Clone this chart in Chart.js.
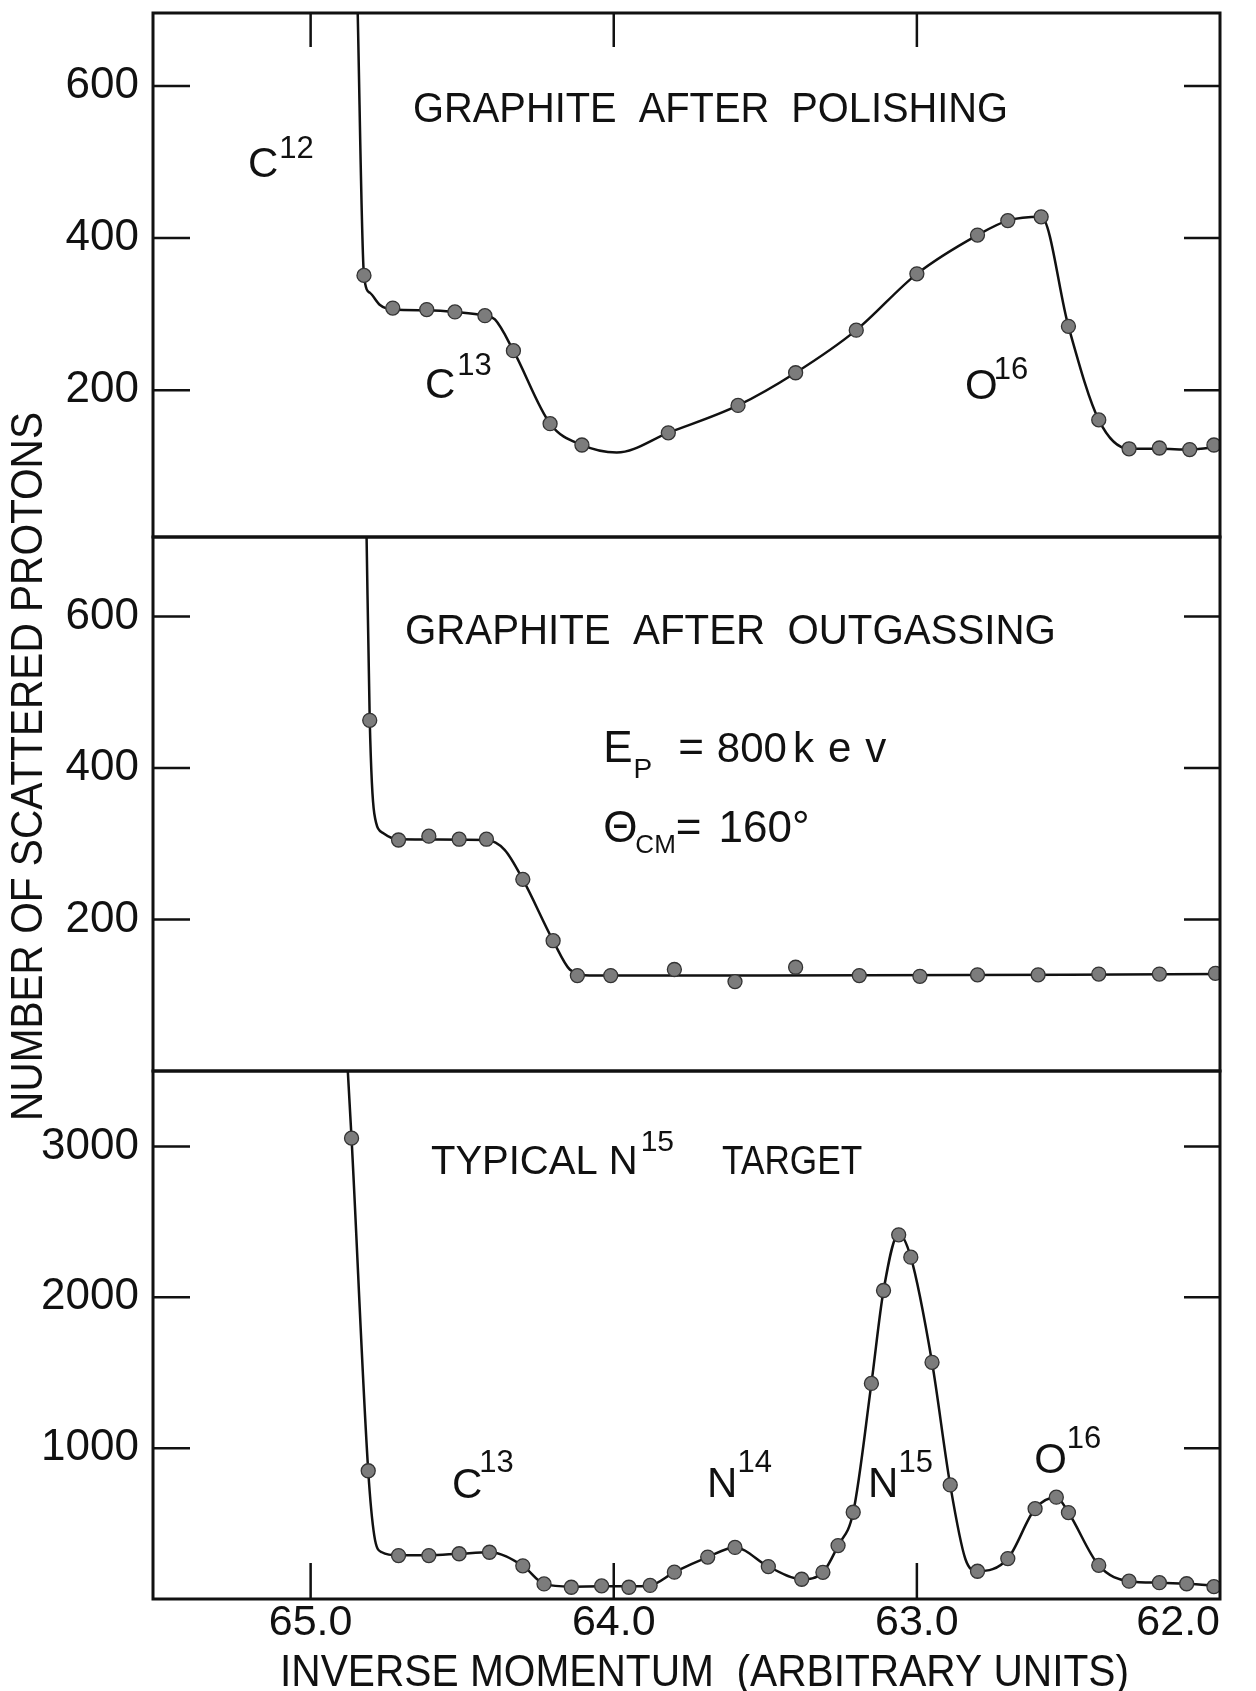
<!DOCTYPE html>
<html>
<head>
<meta charset="utf-8">
<title>Number of scattered protons vs inverse momentum</title>
<script src="https://cdn.jsdelivr.net/npm/chart.js@4.4.1/dist/chart.umd.min.js"></script>
<style>
  html, body { margin: 0; padding: 0; background: #ffffff; }
  #wrap { position: relative; width: 1256px; height: 1691px; }
  canvas { display: block; }
</style>
</head>
<body>
<div id="wrap"><canvas id="spectra" width="1256" height="1691"></canvas></div>
<script>
const FONT = '"Liberation Sans", "DejaVu Sans", Arial, sans-serif';
const INK = '#111111';

// Axis tick values
const xTickValues = [65.0, 64.0, 63.0, 62.0];
const graphiteTickValues = [200, 400, 600];
const nitrogenTickValues = [1000, 2000, 3000];

// Graphite after polishing: measured points
const polishedMomentum = [64.824, 64.729, 64.617, 64.524, 64.425, 64.331, 64.21, 64.105, 63.82, 63.59, 63.40, 63.20,
  63.00, 62.80, 62.70, 62.59, 62.50, 62.40, 62.30, 62.20, 62.10, 62.02];
const polishedCounts = [351, 308, 306, 303, 298, 252, 156, 128, 144, 180, 223, 279,
  353, 404, 423, 428, 284, 161, 123, 124, 122, 128];
// Graphite after polishing: drawn curve
const polishedCurveMomentum = [64.846, 64.824, 64.804, 64.771, 64.729, 64.617, 64.524, 64.425, 64.392, 64.331, 64.21,
  64.105, 63.99, 63.82, 63.59, 63.40, 63.20, 63.00, 62.80, 62.70, 62.59, 62.50, 62.40, 62.30, 62.20, 62.10, 62.0];
const polishedCurveCounts = [720, 351, 328, 312, 306, 305, 303, 298, 293, 252, 156,
  128, 118, 144, 180, 223, 279, 353, 404, 423, 428, 284, 161, 123, 123, 122, 126];

// Graphite after outgassing: measured points
const outgassedMomentum = [64.805, 64.71, 64.61, 64.51, 64.42, 64.30, 64.20, 64.12, 64.01, 63.80, 63.60, 63.40,
  63.19, 62.99, 62.80, 62.60, 62.40, 62.20, 62.015];
const outgassedCounts = [463, 305, 310, 306, 306, 253, 172, 126, 126, 134, 118, 137,
  126, 125, 127, 127, 128, 128, 129];
// Graphite after outgassing: drawn curve
const outgassedCurveMomentum = [64.816, 64.805, 64.79, 64.76, 64.71, 64.42, 64.36, 64.30, 64.20, 64.145, 64.08, 63.50, 62.0];
const outgassedCurveCounts = [720, 463, 340, 314, 306, 305, 292, 253, 172, 134, 126, 126, 128];

// Typical N15 target: measured points
const n15Momentum = [64.865, 64.81, 64.71, 64.61, 64.51, 64.41, 64.30, 64.23, 64.14, 64.04, 63.95, 63.88,
  63.80, 63.69, 63.60, 63.49, 63.38, 63.31, 63.26, 63.21, 63.15, 63.11, 63.06, 63.02,
  62.95, 62.89, 62.80, 62.70, 62.61, 62.54, 62.50, 62.40, 62.30, 62.20, 62.11, 62.02];
const n15Counts = [3055, 850, 288, 288, 300, 310, 220, 100, 78, 87, 78, 90,
  178, 278, 342, 215, 131, 177, 354, 575, 1429, 2045, 2414, 2266,
  1569, 756, 184, 268, 599, 675, 573, 223, 118, 108, 101, 82];
// Typical N15 target: drawn curve
const n15CurveMomentum = [64.883, 64.865, 64.81, 64.79, 64.765, 64.71, 64.61, 64.51, 64.41, 64.30, 64.23, 64.14,
  64.04, 63.95, 63.88, 63.80, 63.69, 63.60, 63.49, 63.38, 63.31, 63.26, 63.21, 63.15, 63.11, 63.06,
  63.02, 62.95, 62.89, 62.84, 62.80, 62.70, 62.61, 62.54, 62.50, 62.40, 62.30, 62.20, 62.11, 62.0];
const n15CurveCounts = [3700, 3055, 850, 420, 310, 290, 290, 300, 310, 220, 100, 82,
  84, 84, 90, 178, 278, 342, 215, 131, 177, 354, 575, 1429, 2045, 2420,
  2266, 1569, 756, 265, 184, 268, 599, 675, 573, 223, 118, 108, 101, 86];

const toXY = (xs, ys) => xs.map((x, i) => ({ x, y: ys[i] }));

function pointSet(label, xs, ys, axis) {
  return {
    label, data: toXY(xs, ys), yAxisID: axis, showLine: false,
    pointRadius: 7, pointHoverRadius: 7,
    pointBackgroundColor: '#7c7c7c', pointBorderColor: '#333333', pointBorderWidth: 1.3
  };
}
function curveSet(label, xs, ys, axis) {
  return {
    label, data: toXY(xs, ys), yAxisID: axis, showLine: true,
    pointRadius: 0, pointHoverRadius: 0, borderColor: INK, borderWidth: 2.5,
    cubicInterpolationMode: 'monotone', fill: false
  };
}

function panelAxis(min, max, tickValues, weight, stackWeight) {
  return {
    type: 'linear', position: 'left', stack: 'panels', stackWeight, weight,
    min, max,
    afterBuildTicks: s => { s.ticks = tickValues.map(v => ({ value: v })); },
    grid: { display: false, drawTicks: false },
    border: { display: false },
    ticks: {
      color: INK, padding: 14, autoSkip: false,
      font: { family: FONT, size: 44, lineHeight: 1 },
      callback: v => String(v)
    },
    afterFit: s => { s.width = 153; s.paddingTop = 0; s.paddingBottom = 0; }
  };
}

// Frames, inward tick marks, per-panel clipping and lettering
const panelDecor = {
  id: 'panelDecor',
  beforeDatasetDraw(chart, args) {
    const ys = args.meta.yScale;
    const { left, right } = chart.chartArea;
    const ctx = chart.ctx;
    ctx.save();
    ctx.beginPath();
    ctx.rect(left, ys.top, right - left, ys.bottom - ys.top);
    ctx.clip();
  },
  afterDatasetDraw(chart) {
    chart.ctx.restore();
  },
  afterDraw(chart, args, opts) {
    const ctx = chart.ctx;
    const { left, right, top, bottom } = chart.chartArea;
    const xs = chart.scales.x;
    ctx.save();
    ctx.strokeStyle = INK;
    ctx.lineCap = 'butt';

    // y tick marks on both sides of every panel
    ctx.lineWidth = 2.5;
    for (const id of opts.panels) {
      const s = chart.scales[id];
      for (const t of s.ticks) {
        const py = s.getPixelForValue(t.value);
        ctx.beginPath();
        ctx.moveTo(left, py); ctx.lineTo(left + opts.yTickLeft, py);
        ctx.moveTo(right - opts.yTickRight, py); ctx.lineTo(right, py);
        ctx.stroke();
      }
    }
    // x tick marks: bottom of lowest panel, top of upper panel
    for (const v of xTickValues) {
      if (v <= xs.min || v >= xs.max) continue;
      const px = xs.getPixelForValue(v);
      ctx.beginPath();
      ctx.moveTo(px, bottom); ctx.lineTo(px, bottom - opts.xTickBottom);
      ctx.moveTo(px, top); ctx.lineTo(px, top + opts.xTickTop);
      ctx.stroke();
    }
    // panel frames
    ctx.lineWidth = 3;
    for (const id of opts.panels) {
      const s = chart.scales[id];
      ctx.strokeRect(left, s.top, right - left, s.bottom - s.top);
    }

    // lettering inside the panels
    ctx.fillStyle = INK;
    ctx.textBaseline = 'alphabetic';
    ctx.textAlign = 'left';
    for (const lab of opts.labels) {
      const px = xs.getPixelForValue(lab.x);
      const py = chart.scales[lab.axis].getPixelForValue(lab.y);
      if (lab.fit) {
        ctx.font = `${lab.runs[0].size}px ${FONT}`;
        const w = ctx.measureText(lab.runs[0].text).width;
        ctx.save();
        ctx.translate(px, py);
        ctx.scale(lab.fit / w, 1);
        ctx.fillText(lab.runs[0].text, 0, 0);
        ctx.restore();
        continue;
      }
      let cx = px;
      for (const r of lab.runs) {
        const sx = r.sx || 1;
        cx += r.gap || 0;
        ctx.font = `${r.size}px ${FONT}`;
        ctx.letterSpacing = (r.spacing || 0) + 'px';
        ctx.save();
        ctx.translate(cx, py - (r.rise || 0));
        ctx.scale(sx, 1);
        ctx.fillText(r.text, 0, 0);
        ctx.restore();
        cx += ctx.measureText(r.text).width * sx;
        ctx.letterSpacing = '0px';
      }
    }

    // axis titles
    const yt = opts.yTitle;
    ctx.font = `${yt.size}px ${FONT}`;
    let w = ctx.measureText(yt.text).width;
    ctx.save();
    ctx.translate(yt.baseline, yt.start);
    ctx.rotate(-Math.PI / 2);
    ctx.scale((yt.start - yt.end) / w, 1);
    ctx.fillText(yt.text, 0, 0);
    ctx.restore();

    const xt = opts.xTitle;
    ctx.font = `${xt.size}px ${FONT}`;
    w = ctx.measureText(xt.text).width;
    ctx.save();
    ctx.translate(xt.start, xt.baseline);
    ctx.scale((xt.end - xt.start) / w, 1);
    ctx.fillText(xt.text, 0, 0);
    ctx.restore();

    ctx.restore();
  }
};

Chart.defaults.font.family = FONT;
Chart.defaults.color = INK;

new Chart(document.getElementById('spectra'), {
  type: 'scatter',
  data: {
    datasets: [
      pointSet('Graphite after polishing', polishedMomentum, polishedCounts, 'y1'),
      pointSet('Graphite after outgassing', outgassedMomentum, outgassedCounts, 'y2'),
      pointSet('Typical N15 target', n15Momentum, n15Counts, 'y3'),
      curveSet('Graphite after polishing (curve)', polishedCurveMomentum, polishedCurveCounts, 'y1'),
      curveSet('Graphite after outgassing (curve)', outgassedCurveMomentum, outgassedCurveCounts, 'y2'),
      curveSet('Typical N15 target (curve)', n15CurveMomentum, n15CurveCounts, 'y3')
    ]
  },
  options: {
    responsive: false,
    animation: false,
    devicePixelRatio: 1,
    layout: { padding: { top: 13, right: 36, bottom: 0, left: 0 } },
    scales: {
      x: {
        type: 'linear', position: 'bottom', reverse: true,
        min: 62.0, max: 65.52,
        afterBuildTicks: s => {
          s.ticks = [...xTickValues, s.max].sort((a, b) => a - b).map(v => ({ value: v }));
        },
        grid: { display: false, drawTicks: false },
        border: { display: false },
        ticks: {
          color: INK, padding: 3, autoSkip: false, maxRotation: 0, minRotation: 0, align: 'inner',
          font: { family: FONT, size: 43, lineHeight: 1 },
          callback: v => (xTickValues.includes(v) ? v.toFixed(1) : '')
        },
        afterFit: s => { s.height = 92; s.paddingLeft = 0; s.paddingRight = 0; }
      },
      y1: panelAxis(7, 696, graphiteTickValues, 3, 524),
      y2: panelAxis(0, 705, graphiteTickValues, 2, 534),
      y3: panelAxis(0, 3500, nitrogenTickValues, 1, 528)
    },
    plugins: {
      legend: { display: false },
      tooltip: { enabled: false },
      panelDecor: {
        panels: ['y1', 'y2', 'y3'],
        yTickLeft: 37, yTickRight: 36, xTickBottom: 36, xTickTop: 34,
        labels: [
          { axis: 'y1', x: 64.662, y: 553, fit: 595, runs: [{ text: 'GRAPHITE  AFTER  POLISHING', size: 42 }] },
          { axis: 'y1', x: 65.207, y: 480, runs: [{ text: 'C', size: 42 }, { text: '12', size: 31, rise: 19, gap: 1 }] },
          { axis: 'y1', x: 64.623, y: 190, runs: [{ text: 'C', size: 42 }, { text: '13', size: 31, rise: 23, gap: 2 }] },
          { axis: 'y1', x: 62.841, y: 188, runs: [{ text: 'O', size: 42 }, { text: '16', size: 31, rise: 20, gap: -4 }] },
          { axis: 'y2', x: 64.689, y: 564, fit: 651, runs: [{ text: 'GRAPHITE  AFTER  OUTGASSING', size: 42 }] },
          { axis: 'y2', x: 64.035, y: 408, runs: [
            { text: 'E', size: 44 }, { text: 'P', size: 28, rise: -16, gap: 1 },
            { text: '=', size: 44, gap: 26 }, { text: '800', size: 42, gap: 13 },
            { text: 'kev', size: 42, gap: 6, spacing: 14 }] },
          { axis: 'y2', x: 64.035, y: 302, runs: [
            { text: 'Θ', size: 44 }, { text: 'CM', size: 26, rise: -11, gap: -2 },
            { text: '=', size: 44 }, { text: '160°', size: 44, gap: 17 }] },
          { axis: 'y3', x: 64.603, y: 2817, runs: [
            { text: 'TYPICAL N', size: 40 }, { text: '15', size: 30, rise: 23, gap: 3 },
            { text: 'TARGET', size: 40, gap: 48, sx: 0.88 }] },
          { axis: 'y3', x: 64.534, y: 669, runs: [{ text: 'C', size: 42 }, { text: '13', size: 31, rise: 26, gap: -3 }] },
          { axis: 'y3', x: 63.692, y: 676, runs: [{ text: 'N', size: 42 }, { text: '14', size: 31, rise: 25 }] },
          { axis: 'y3', x: 63.161, y: 676, runs: [{ text: 'N', size: 42 }, { text: '15', size: 31, rise: 25 }] },
          { axis: 'y3', x: 62.613, y: 835, runs: [{ text: 'O', size: 42 }, { text: '16', size: 31, rise: 25 }] }
        ],
        yTitle: { text: 'NUMBER OF SCATTERED PROTONS', size: 44, baseline: 42, start: 1121, end: 412 },
        xTitle: { text: 'INVERSE MOMENTUM  (ARBITRARY UNITS)', size: 44, baseline: 1686, start: 280, end: 1129 }
      }
    }
  },
  plugins: [panelDecor]
});
</script>
</body>
</html>
